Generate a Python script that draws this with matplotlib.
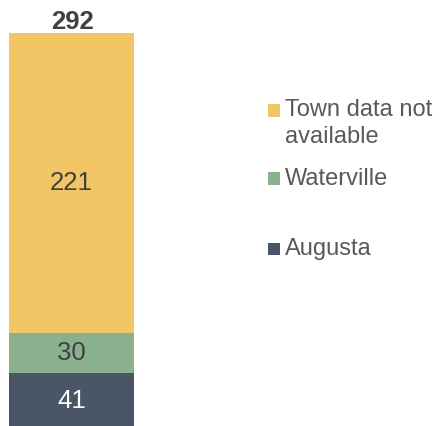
import matplotlib.pyplot as plt
from matplotlib.patches import Rectangle

plt.rcParams['font.family'] = ['Liberation Sans', 'DejaVu Sans']

# Data
categories = ["Augusta", "Waterville", "Town data not available"]
values = [41, 30, 221]
colors = ["#4A5668", "#8BB08E", "#F2C665"]
label_colors = ["white", "#404040", "#404040"]
legend_labels = ["Town data not\navailable", "Waterville", "Augusta"]

W, H = 441, 426
fig = plt.figure(figsize=(W / 100, H / 100), dpi=100)
# bar runs a little past the bottom edge, as in the original
ax = fig.add_axes([9 / W, -3 / H, 125 / W, 396 / H])

bottom = 0
for val, col, lc in zip(values, colors, label_colors):
    ax.bar(0, val, bottom=bottom, width=1.0, color=col, edgecolor="none")
    ax.text(0, bottom + val / 2, str(val), ha="center", va="center",
            fontsize=18.5, color=lc)
    bottom += val

total = sum(values)
ax.annotate(str(total), xy=(0.5, 1.0), xycoords="axes fraction",
            xytext=(1.5, 4), textcoords="offset pixels",
            ha="center", va="baseline", fontsize=18.5,
            fontweight="bold", color="#404040", annotation_clip=False)

ax.set_xlim(-0.5, 0.5)
ax.set_ylim(0, total)
ax.axis("off")

# Legend drawn by hand (uneven spacing as in the original)
legend_base = [116.5, 185, 255]  # baseline pixel row of first text line
legend_cols = [colors[2], colors[1], colors[0]]
for lab, col, y in zip(legend_labels, legend_cols, legend_base):
    fig.add_artist(Rectangle((268 / W, 1 - y / H), 12 / W, 12.5 / H,
                             transform=fig.transFigure, color=col, lw=0))
    fig.text(285 / W, 1 - y / H, lab.split("\n")[0], ha="left",
             va="baseline", fontsize=17, color="#595959")
    if "\n" in lab:
        fig.text(285 / W, 1 - (y + 26.5) / H, lab.split("\n")[1], ha="left",
                 va="baseline", fontsize=17, color="#595959")

fig.savefig("out.png", dpi=100, facecolor="white")
